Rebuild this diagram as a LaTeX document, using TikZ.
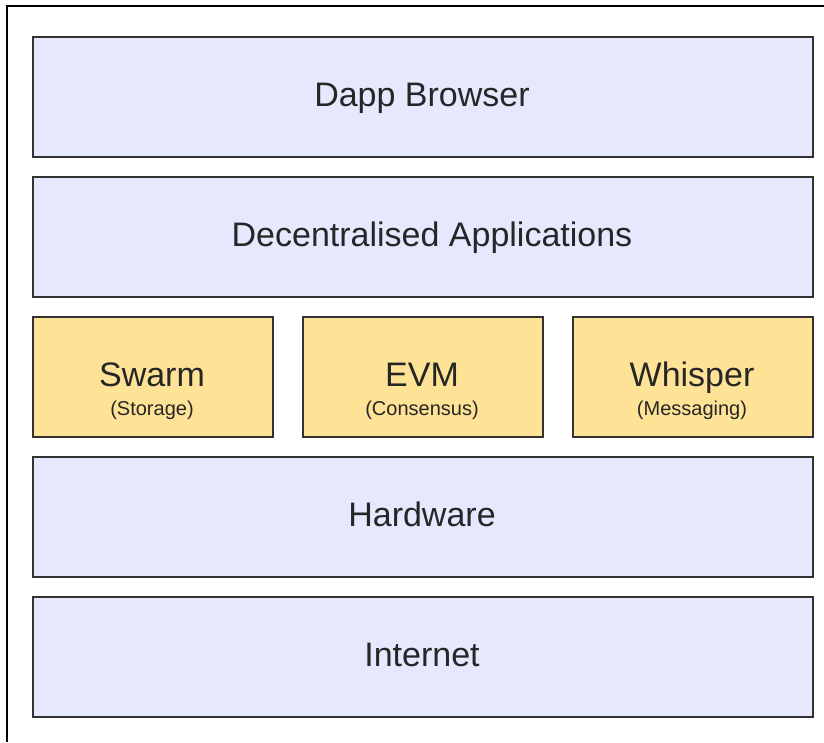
\documentclass[tikz,border=0pt]{standalone}
\usepackage{fontspec}
\setmainfont{Liberation Sans}
\definecolor{layerblue}{HTML}{E6E9FE}
\definecolor{layeryellow}{HTML}{FEE295}
\definecolor{edgegray}{HTML}{333333}
\tikzset{
  layer/.style={draw=edgegray, line width=1.6pt, fill=layerblue, minimum width=780pt, minimum height=120pt, inner sep=0pt, anchor=north west},
  module/.style={draw=edgegray, line width=1.6pt, fill=layeryellow, minimum width=240pt, minimum height=120pt, inner sep=0pt, anchor=north west},
  bigtext/.style={font=\fontsize{34pt}{40pt}\selectfont, text=black!85, inner sep=0pt, anchor=base},
  smalltext/.style={font=\fontsize{20pt}{24pt}\selectfont, text=black!85, inner sep=0pt, anchor=base}
}
\begin{document}
\begin{tikzpicture}[x=1pt,y=-1pt]
\useasboundingbox (0,0) rectangle (824,742);
\fill[white] (0,0) rectangle (824,742);
\coordinate (frameBL) at (7,742);
\coordinate (frameTL) at (7,6);
\coordinate (frameTR) at (824,6);
\draw[line width=2.2pt, black] (frameBL) -- (frameTL) -- (frameTR);

\node[layer] (dapp) at (32,36) {};
\node[bigtext] (dappT) at (422,106) {Dapp Browser};

\node[layer] (apps) at (32,176) {};
\node[bigtext] (appsT) at (432,246) {Decentralised Applications};

\node[module] (swarm) at (32,316) {};
\node[bigtext] (swarmT) at (152,386) {Swarm};
\node[smalltext] (swarmS) at (152,415) {(Storage)};

\node[module] (evm) at (302,316) {};
\node[bigtext] (evmT) at (422,386) {EVM};
\node[smalltext] (evmS) at (422,415) {(Consensus)};

\node[module] (whisper) at (572,316) {};
\node[bigtext] (whisperT) at (692,386) {Whisper};
\node[smalltext] (whisperS) at (692,415) {(Messaging)};

\node[layer] (hw) at (32,456) {};
\node[bigtext] (hwT) at (422,526) {Hardware};

\node[layer] (net) at (32,596) {};
\node[bigtext] (netT) at (422,666) {Internet};
\end{tikzpicture}
\end{document}
